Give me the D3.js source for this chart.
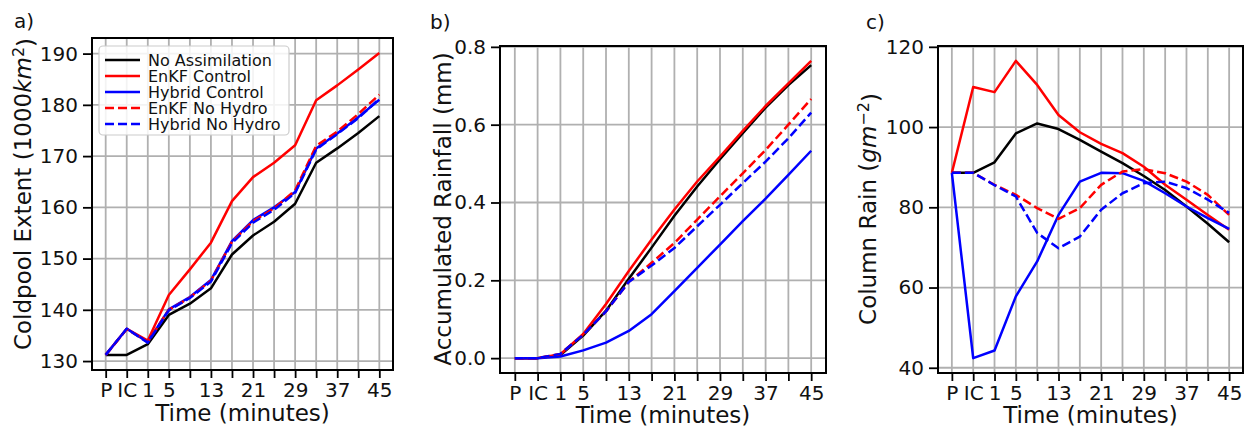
<!DOCTYPE html>
<html>
<head>
<meta charset="utf-8">
<script src="https://cdn.jsdelivr.net/npm/d3@7"></script>
<style>
  html, body { margin: 0; padding: 0; background: #fff; }
  svg { display: block; font-family: "DejaVu Sans", sans-serif; }
</style>
</head>
<body>
<script>
// Forecast time steps (P = prior, IC = initial condition, then minutes)
const timeCategories = ["P", "IC", "1", "5", "9", "13", "17", "21", "25", "29", "33", "37", "41", "45"];
const timeTickLabels = ["P", "IC", "1", "5", "", "13", "", "21", "", "29", "", "37", "", "45"];

// Series names
const seriesNames = ["No Assimilation", "EnKF Control", "Hybrid Control", "EnKF No Hydro", "Hybrid No Hydro"];

// a) Coldpool extent (1000 km^2)
const coldpoolNoAssim     = [131.2, 131.2, 133.3, 139.0, 141.2, 144.2, 150.8, 154.5, 157.2, 160.7, 168.7, 171.5, 174.5, 177.8];
const coldpoolEnkfControl = [131.2, 136.3, 134.0, 142.9, 147.9, 153.1, 161.2, 165.9, 168.7, 172.1, 180.9, 183.8, 186.9, 190.1];
const coldpoolHybControl  = [131.2, 136.3, 133.7, 140.1, 142.5, 145.8, 153.4, 157.5, 160.0, 163.0, 171.5, 174.4, 177.6, 181.0];
const coldpoolEnkfNoHydro = [131.2, 136.2, 133.8, 140.0, 142.4, 145.7, 153.3, 157.3, 159.8, 163.3, 172.0, 174.8, 178.2, 182.0];
const coldpoolHybNoHydro  = [131.2, 136.3, 133.6, 139.9, 142.3, 145.5, 153.0, 157.0, 159.5, 162.8, 171.3, 174.3, 177.4, 181.2];
const coldpoolTicks = [130, 140, 150, 160, 170, 180, 190];

// b) Accumulated rainfall (mm)
const rainNoAssim     = [0, 0, 0.008, 0.058, 0.122, 0.204, 0.284, 0.366, 0.441, 0.511, 0.578, 0.644, 0.702, 0.753];
const rainEnkfControl = [0, 0, 0.010, 0.062, 0.139, 0.224, 0.305, 0.382, 0.454, 0.518, 0.584, 0.648, 0.706, 0.764];
const rainHybControl  = [0, 0, 0.004, 0.020, 0.040, 0.070, 0.113, 0.172, 0.232, 0.292, 0.352, 0.410, 0.471, 0.533];
const rainEnkfNoHydro = [0, 0, 0.011, 0.060, 0.120, 0.196, 0.245, 0.296, 0.356, 0.416, 0.475, 0.535, 0.600, 0.666];
const rainHybNoHydro  = [0, 0, 0.011, 0.060, 0.120, 0.196, 0.238, 0.283, 0.339, 0.394, 0.450, 0.505, 0.565, 0.631];
const rainTicks = [0.0, 0.2, 0.4, 0.6, 0.8];

// c) Column rain (g m^-2)
const columnNoAssim     = [88.6, 88.6, 91.2, 98.4, 100.9, 99.5, 96.8, 93.9, 91.0, 87.8, 84.3, 80.2, 75.9, 71.3];
const columnEnkfControl = [88.6, 110.0, 108.7, 116.5, 110.5, 103.0, 98.7, 95.8, 93.5, 90.1, 85.6, 81.9, 78.1, 74.4];
const columnHybControl  = [88.6, 42.4, 44.3, 57.8, 66.5, 78.1, 86.4, 88.6, 88.5, 86.6, 83.5, 80.2, 77.3, 74.6];
const columnEnkfNoHydro = [88.6, 88.6, 85.6, 83.1, 79.8, 77.1, 79.8, 85.6, 88.9, 89.5, 88.5, 86.4, 83.1, 78.1];
const columnHybNoHydro  = [88.6, 88.6, 85.5, 82.7, 73.6, 69.8, 72.7, 79.4, 83.5, 86.0, 86.4, 84.8, 81.9, 78.6];
const columnTicks = [40, 60, 80, 100, 120];

// Line styles per series
const seriesColors = ["#000000", "#ff0000", "#0000ff", "#ff0000", "#0000ff"];
const seriesDashed = [false, false, false, true, true];

const W = 1253, H = 427;
const svg = d3.select("body").append("svg").attr("width", W).attr("height", H);

const panels = [
  {
    tag: "a)", tagX: 14, tagY: 28,
    box: { left: 92, right: 393, top: 38, bottom: 370 },
    series: [coldpoolNoAssim, coldpoolEnkfControl, coldpoolHybControl, coldpoolEnkfNoHydro, coldpoolHybNoHydro],
    ticks: coldpoolTicks, fmt: d3.format("d"),
    ylabel: [{ t: "Coldpool Extent (1000" }, { t: "km", it: true }, { t: "2", sup: true }, { t: ")" }],
    ylabelX: 31, ylabelY: 194, xlabelY: 421,
    legend: true
  },
  {
    tag: "b)", tagX: 430, tagY: 29,
    box: { left: 500, right: 826, top: 46, bottom: 373 },
    series: [rainNoAssim, rainEnkfControl, rainHybControl, rainEnkfNoHydro, rainHybNoHydro],
    ticks: rainTicks, fmt: d3.format(".1f"),
    ylabel: [{ t: "Accumulated Rainfall (mm)" }],
    ylabelX: 451, ylabelY: 209, xlabelY: 423
  },
  {
    tag: "c)", tagX: 866, tagY: 29,
    box: { left: 938, right: 1243, top: 46, bottom: 373 },
    series: [columnNoAssim, columnEnkfControl, columnHybControl, columnEnkfNoHydro, columnHybNoHydro],
    ticks: columnTicks, fmt: d3.format("d"),
    ylabel: [{ t: "Column Rain (" }, { t: "gm", it: true }, { t: "\u22122", sup: true }, { t: ")" }],
    ylabelX: 876, ylabelY: 209, xlabelY: 423
  }
];

const gridColor = "#b0b0b0";
const textColor = "#111";

panels.forEach(p => {
  const b = p.box;
  const g = svg.append("g");

  // x: category index with 5% margins on each side
  const n = timeCategories.length;
  const xm = (n - 1) * 0.05;
  const x = d3.scaleLinear().domain([-xm, n - 1 + xm]).range([b.left, b.right]);

  // y: data extent with 5% margins
  const all = p.series.flat();
  const lo = d3.min(all), hi = d3.max(all), pad = (hi - lo) * 0.05;
  const y = d3.scaleLinear().domain([lo - pad, hi + pad]).range([b.bottom, b.top]);

  // grid
  g.append("g").selectAll("line").data(d3.range(n)).join("line")
    .attr("x1", d => x(d)).attr("x2", d => x(d))
    .attr("y1", b.top).attr("y2", b.bottom)
    .attr("stroke", gridColor).attr("stroke-width", 1.8);
  g.append("g").selectAll("line").data(p.ticks).join("line")
    .attr("x1", b.left).attr("x2", b.right)
    .attr("y1", d => y(d)).attr("y2", d => y(d))
    .attr("stroke", gridColor).attr("stroke-width", 1.8);

  // series lines
  const line = d3.line().x((d, i) => x(i)).y(d => y(d));
  p.series.forEach((s, k) => {
    g.append("path").datum(s)
      .attr("d", line)
      .attr("fill", "none")
      .attr("stroke", seriesColors[k])
      .attr("stroke-width", 2.5)
      .attr("stroke-linejoin", "round")
      .attr("stroke-dasharray", seriesDashed[k] ? "9,4" : null);
  });

  // frame
  g.append("rect")
    .attr("x", b.left).attr("y", b.top)
    .attr("width", b.right - b.left).attr("height", b.bottom - b.top)
    .attr("fill", "none").attr("stroke", "#000").attr("stroke-width", 2);

  // axes
  const xAxis = g.append("g").attr("transform", `translate(0,${b.bottom})`)
    .call(d3.axisBottom(x).tickValues(d3.range(n)).tickFormat(i => timeTickLabels[i])
      .tickSize(8).tickPadding(5));
  const yAxis = g.append("g").attr("transform", `translate(${b.left},0)`)
    .call(d3.axisLeft(y).tickValues(p.ticks).tickFormat(p.fmt).tickSize(9).tickPadding(5));
  [xAxis, yAxis].forEach(ax => {
    ax.select(".domain").remove();
    ax.selectAll(".tick line").attr("stroke", "#000").attr("stroke-width", 1.8);
    ax.selectAll(".tick text").attr("fill", textColor)
      .style("font-size", "20px").style("font-family", "DejaVu Sans");
  });

  // x label
  g.append("text")
    .attr("x", (b.left + b.right) / 2).attr("y", p.xlabelY)
    .attr("text-anchor", "middle").attr("fill", textColor)
    .style("font-size", "23px")
    .text("Time (minutes)");

  // y label
  const yl = g.append("text")
    .attr("transform", `translate(${p.ylabelX},${p.ylabelY}) rotate(-90)`)
    .attr("text-anchor", "middle").attr("fill", textColor)
    .style("font-size", "23px");
  p.ylabel.forEach((part, i) => {
    const ts = yl.append("tspan").text(part.t);
    if (part.it) ts.style("font-style", "italic");
    if (part.sup) ts.attr("dy", "-0.45em").style("font-size", "16px");
    else if (i > 0 && p.ylabel[i - 1].sup) ts.attr("dy", "0.45em");
  });

  // panel tag
  g.append("text").attr("x", p.tagX).attr("y", p.tagY)
    .attr("fill", textColor).style("font-size", "20px").text(p.tag);

  // legend
  if (p.legend) {
    const lg = g.append("g");
    lg.append("rect")
      .attr("x", b.left + 7).attr("y", b.top + 8)
      .attr("width", 190).attr("height", 89)
      .attr("rx", 4).attr("ry", 4)
      .attr("fill", "#fff").attr("fill-opacity", 0.85)
      .attr("stroke", "#cccccc").attr("stroke-width", 1.2);
    seriesNames.forEach((name, k) => {
      const cy = b.top + 22 + k * 16;
      lg.append("line")
        .attr("x1", b.left + 13).attr("x2", b.left + 48)
        .attr("y1", cy).attr("y2", cy)
        .attr("stroke", seriesColors[k]).attr("stroke-width", 2.5)
        .attr("stroke-dasharray", seriesDashed[k] ? "9,4" : null);
      lg.append("text")
        .attr("x", b.left + 56).attr("y", cy).attr("dy", "0.36em")
        .attr("fill", textColor).style("font-size", "16px")
        .text(name);
    });
  }
});
</script>
</body>
</html>
